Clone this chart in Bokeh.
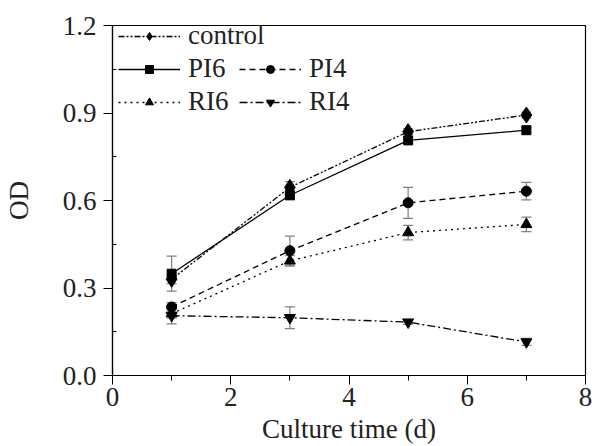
from bokeh.plotting import figure
from bokeh.models import (ColumnDataSource, Whisker, TeeHead, Legend, LegendItem,
                          Range1d, FixedTicker, CustomJSTickFormatter)
from bokeh.embed import file_html
from bokeh.resources import INLINE

days = [1, 3, 5, 7]
control = [0.330, 0.645, 0.836, 0.893]
control_err = [0.015, 0.020, 0.010, 0.010]
pi6 = [0.349, 0.618, 0.806, 0.841]
pi6_err = [0.060, 0.015, 0.010, 0.008]
pi4 = [0.235, 0.428, 0.592, 0.632]
pi4_err = [0.015, 0.050, 0.053, 0.030]
ri6 = [0.212, 0.393, 0.490, 0.518]
ri6_err = [0.015, 0.018, 0.025, 0.025]
ri4 = [0.205, 0.198, 0.183, 0.115]
ri4_err = [0.028, 0.037, 0.008, 0.012]

series = [
    ("control", control, control_err, "diamond", "6 2 2 2 2 2", 16),
    ("PI6", pi6, pi6_err, "square", "solid", 9),
    ("PI4", pi4, pi4_err, "circle", "6 4", 10),
    ("RI6", ri6, ri6_err, "triangle", "2 4", 11),
    ("RI4", ri4, ri4_err, "inverted_triangle", "8 3 2 3", 11),
]

FONT = "Times New Roman"
FS = "27px"

p = figure(width=592, height=446, output_backend="svg", toolbar_location=None,
           x_range=Range1d(0, 8), y_range=Range1d(0, 1.2),
           min_border_left=109, min_border_right=7, min_border_top=25,
           min_border_bottom=70)
p.background_fill_color = "white"
p.border_fill_color = "white"
p.grid.visible = False
p.outline_line_color = "black"
p.outline_line_width = 1.2

renderers = {}
for name, ys, errs, marker, dash, size in series:
    src = ColumnDataSource(dict(x=days, y=ys,
                                lo=[a - b for a, b in zip(ys, errs)],
                                hi=[a + b for a, b in zip(ys, errs)]))
    w = Whisker(base="x", upper="hi", lower="lo", source=src,
                line_color="#808080", line_width=1.2,
                upper_head=TeeHead(size=10, line_color="#808080", line_width=1.2),
                lower_head=TeeHead(size=10, line_color="#808080", line_width=1.2))
    p.add_layout(w)
    ln = p.line("x", "y", source=src, line_color="black", line_width=1.3,
                line_dash=dash)
    mk = p.scatter("x", "y", source=src, marker=marker, size=size,
                   fill_color="black", line_color="black")
    renderers[name] = [ln, mk]

p.xaxis.ticker = FixedTicker(ticks=[0, 2, 4, 6, 8], minor_ticks=[1, 3, 5, 7])
p.yaxis.ticker = FixedTicker(ticks=[0, 0.3, 0.6, 0.9, 1.2],
                             minor_ticks=[0.15, 0.45, 0.75, 1.05])
p.yaxis.formatter = CustomJSTickFormatter(code="return tick.toFixed(1);")

for ax in (p.xaxis, p.yaxis):
    ax.axis_line_color = "black"
    ax.axis_line_width = 1.2
    ax.major_tick_line_color = "black"
    ax.minor_tick_line_color = "black"
    ax.major_tick_in = 0
    ax.major_tick_out = 9
    ax.major_label_text_font = FONT
    ax.major_label_text_font_size = FS
    ax.major_label_text_color = "#222222"
    ax.axis_label_text_font = FONT
    ax.axis_label_text_font_size = FS
    ax.axis_label_text_font_style = "normal"
    ax.axis_label_text_color = "#222222"
p.xaxis.minor_tick_in = 0
p.xaxis.minor_tick_out = 5
p.yaxis.minor_tick_in = 4
p.yaxis.minor_tick_out = 0
p.xaxis.axis_label = "Culture time (d)"
p.yaxis.axis_label = "OD"
p.xaxis.major_label_standoff = 3
p.xaxis.axis_label_standoff = 5
p.yaxis.major_label_standoff = 7
p.yaxis.axis_label_standoff = 26

def make_legend(names, loc, spacing):
    lg = Legend(items=[LegendItem(label=n, renderers=renderers[n]) for n in names],
                location=loc)
    lg.background_fill_alpha = 0
    lg.border_line_alpha = 0
    lg.label_text_font = FONT
    lg.label_text_font_size = FS
    lg.label_text_color = "#222222"
    lg.glyph_width = 62
    lg.glyph_height = 20
    lg.label_standoff = 8
    lg.spacing = spacing
    lg.padding = 0
    lg.margin = 0
    lg.label_height = 20
    lg.item_background_fill_alpha = 0
    return lg

lg1 = make_legend(["control", "PI6", "RI6"], (6, 258), 2)
lg2 = make_legend(["PI4", "RI4"], (127, 258), 2)
p.add_layout(lg1)
p.add_layout(lg2)

open("out.html", "w").write(file_html(p, INLINE))
